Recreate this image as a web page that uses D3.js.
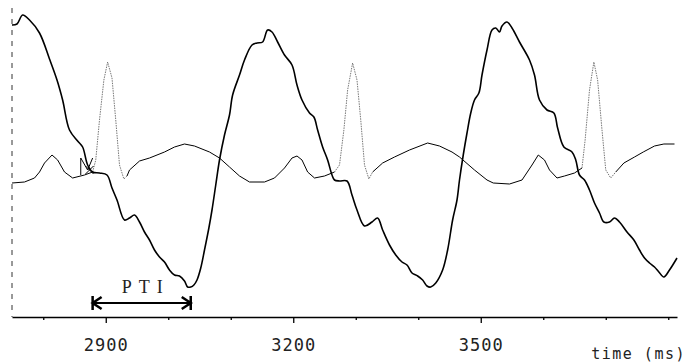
<!DOCTYPE html>
<html>
<head>
    <meta charset="utf-8" />
    <title>PTI trace</title>
    <style>
        body { margin: 0; background: #fff; }
        .thick { fill: none; stroke: #000; stroke-width: 1.6px; stroke-linejoin: round; }
        .thin { fill: none; stroke: #000; stroke-width: 1px; }
        .spike { fill: none; stroke: #777; stroke-width: 1px; stroke-dasharray: 1.5,1; }
        .axis path, .axis line { stroke: #000; stroke-width: 1.3px; }
        .axis text { font-family: 'DejaVu Sans Mono', monospace; font-size: 17px; letter-spacing: 1px; fill: #222; }
    </style>
    <script src="https://cdn.jsdelivr.net/npm/d3@7"></script>
</head>
<body>
<script>
    // time (ms) and amplitude (arbitrary units)
    var pressureT = [2750, 2758, 2767, 2778, 2794, 2810, 2822, 2831, 2842, 2855, 2863, 2871, 2879, 2890, 2902,
        2910, 2918, 2930, 2938, 2946, 2954, 2962, 2970, 2978, 2986, 2994, 3002, 3010, 3018, 3026, 3031, 3036,
        3041, 3046, 3052, 3058, 3065, 3070, 3076, 3082, 3090, 3098, 3103, 3114, 3122, 3134, 3142, 3151, 3159,
        3166, 3175, 3186, 3198, 3206, 3214, 3226, 3233, 3239, 3247, 3255, 3262, 3266, 3274, 3286, 3294, 3302,
        3314, 3326, 3335, 3343, 3354, 3364, 3374, 3382, 3390, 3399, 3407, 3414, 3420, 3428, 3439, 3447, 3455,
        3462, 3466, 3472, 3478, 3484, 3490, 3497, 3502, 3510, 3518, 3524, 3530, 3534, 3542, 3550, 3562, 3578,
        3586, 3594, 3606, 3617, 3623, 3633, 3646, 3652, 3658, 3666, 3674, 3682, 3690, 3697, 3706, 3714, 3722,
        3734, 3745, 3754, 3762, 3770, 3778, 3785, 3793, 3802, 3814];
    var pressureV = [292, 293, 302, 297, 284, 258, 237, 217, 187, 176, 170, 152, 145, 144, 142,
        129, 117, 97, 99, 102, 95, 85, 77, 67, 60, 55, 47, 42, 41, 36, 30, 30,
        32, 37, 49, 67, 89, 107, 132, 157, 182, 202, 222, 242, 257, 272, 274, 275, 287,
        285, 275, 262, 252, 232, 217, 204, 200, 187, 170, 157, 142, 137, 136, 136, 122, 107,
        91, 95, 99, 87, 72, 62, 55, 52, 44, 41, 37, 31, 30, 34, 47, 67, 97,
        117, 137, 162, 184, 204, 217, 224, 242, 267, 287, 289, 285, 291, 295, 289, 275, 257,
        242, 217, 207, 204, 189, 170, 165, 157, 142, 137, 127, 114, 104, 95, 95, 99, 95,
        85, 77, 67, 59, 54, 50, 45, 40, 47, 59];

    var ecgT = [2750, 2770, 2786, 2794, 2802, 2814, 2823, 2834, 2847, 2866, 2879,
        2884, 2890, 2897, 2903, 2910, 2916, 2922, 2929, 2934,
        2938, 2954, 2970, 2994, 3010, 3026, 3042, 3066, 3082, 3098, 3114, 3130, 3154, 3170,
        3186, 3198, 3206, 3214, 3223, 3234, 3250, 3266,
        3274, 3281, 3287, 3295, 3302, 3308, 3314, 3321, 3327,
        3343, 3362, 3386, 3415, 3434, 3454, 3466, 3490, 3510, 3520, 3546, 3566, 3582, 3592,
        3602, 3610, 3622, 3634, 3650, 3662,
        3667, 3674, 3681, 3687, 3694, 3700, 3708, 3716,
        3729, 3746, 3760, 3778, 3793, 3810];
    var ecgV = [134, 135, 139, 145, 154, 162, 157, 145, 139, 142, 145,
        157, 197, 237, 255, 239, 197, 152, 138, 141,
        147, 156, 159, 165, 170, 173, 171, 165, 159, 150, 141, 135, 135, 139,
        149, 159, 161, 157, 145, 139, 141, 145,
        152, 187, 227, 254, 237, 197, 152, 138, 145,
        154, 160, 167, 174, 171, 165, 160, 147, 137, 134, 133, 137, 152, 162,
        157, 147, 139, 141, 144, 149,
        177, 227, 255, 237, 187, 147, 139, 145,
        154, 160, 165, 171, 173, 173];

    // QRS spikes are drawn faint and dotted
    var qrsWindows = [[2879, 2934], [3266, 3327], [3662, 3716]];

    var majorTicks = [2900, 3200, 3500];
    var minorTicks = [2800, 3000, 3100, 3300, 3400, 3600, 3700, 3800];

    // PTI interval and onset marker (ms)
    var ptiStart = 2879, ptiEnd = 3036;
    var markerT = [2860, 2860, 2871, 2879];
    var markerV = [142, 159, 147, 159];

    var width = 687, height = 363;

    var x = d3.scaleLinear().domain([2750, 3814]).range([12, 677]);
    var y = d3.scaleLinear().domain([0, 317]).range([317, 0]);

    var pressure = pressureT.map(function(t, i) { return { t: t, v: pressureV[i] }; });
    var ecg = ecgT.map(function(t, i) { return { t: t, v: ecgV[i] }; });

    function inQrs(t, strict) {
        return qrsWindows.some(function(w) {
            return strict ? (t > w[0] && t < w[1]) : (t >= w[0] && t <= w[1]);
        });
    }

    var svg = d3.select('body').append('svg')
        .attr('width', width)
        .attr('height', height);

    // dashed left border
    svg.append('line')
        .attr('x1', x(2750)).attr('x2', x(2750))
        .attr('y1', y(309)).attr('y2', y(0))
        .attr('stroke', '#333')
        .attr('stroke-width', 1)
        .attr('stroke-dasharray', '5,6');

    var line = d3.line()
        .x(function(d) { return x(d.t); })
        .y(function(d) { return y(d.v); });

    // ecg, solid parts
    svg.append('path')
        .datum(ecg)
        .attr('class', 'thin')
        .attr('d', line.defined(function(d) { return !inQrs(d.t, true); }));

    // ecg, spikes
    svg.append('path')
        .datum(ecg)
        .attr('class', 'spike')
        .attr('d', line.defined(function(d) { return inQrs(d.t, false); }));

    line.defined(function() { return true; });
    line.curve(d3.curveCatmullRom.alpha(0.5));

    svg.append('path')
        .datum(pressure)
        .attr('class', 'thick')
        .attr('d', line);

    // onset marker
    var marker = markerT.map(function(t, i) { return { t: t, v: markerV[i] }; });
    svg.append('path')
        .datum(marker)
        .attr('class', 'thin')
        .attr('stroke-width', 1.3)
        .attr('d', d3.line().x(function(d) { return x(d.t); }).y(function(d) { return y(d.v); }));
    svg.append('path')
        .attr('class', 'thin')
        .attr('stroke-width', 1.5)
        .attr('d', 'M' + (x(2874) - 4) + ',' + (y(147) - 4) + 'l8,8M' + (x(2874) + 4) + ',' + (y(147) - 4) + 'l-8,8');

    // PTI arrow
    var ay = y(14), x0 = x(ptiStart), x1 = x(ptiEnd);
    var arrow = svg.append('g').attr('fill', 'none').attr('stroke', '#000').attr('stroke-width', 2);
    arrow.append('line').attr('x1', x0).attr('x2', x1).attr('y1', ay).attr('y2', ay);
    arrow.append('path').attr('stroke-width', 2.5).attr('d', 'M' + x0 + ',' + (ay - 7) + 'v14M' + (x0 + 9) + ',' + (ay - 6) + 'L' + x0 + ',' + ay + 'L' + (x0 + 9) + ',' + (ay + 6));
    arrow.append('path').attr('stroke-width', 2.5).attr('d', 'M' + x1 + ',' + (ay - 7) + 'v14M' + (x1 - 9) + ',' + (ay - 6) + 'L' + x1 + ',' + ay + 'L' + (x1 - 9) + ',' + (ay + 6));

    svg.append('text')
        .attr('x', (x0 + x1) / 2 + 4)
        .attr('y', ay - 10)
        .attr('text-anchor', 'middle')
        .style('font-family', 'Liberation Serif, serif')
        .style('font-size', '18px')
        .style('letter-spacing', '7px')
        .style('fill', '#222')
        .text('PTI');

    // x axis: minor then major ticks
    svg.append('g')
        .attr('class', 'axis')
        .attr('transform', 'translate(0,' + y(0) + ')')
        .call(d3.axisBottom(x).tickValues(minorTicks).tickSize(3).tickSizeOuter(0).tickFormat(''));

    svg.append('g')
        .attr('class', 'axis')
        .attr('transform', 'translate(0,' + y(0) + ')')
        .call(d3.axisBottom(x).tickValues(majorTicks).tickSize(6).tickSizeOuter(0).tickPadding(16).tickFormat(d3.format('d')))
        .call(function(g) { g.select('.domain').remove(); });

    svg.append('text')
        .attr('x', 686)
        .attr('y', 359)
        .attr('text-anchor', 'end')
        .style('font-family', 'DejaVu Sans Mono, monospace')
        .style('font-size', '15px')
        .style('letter-spacing', '1.5px')
        .style('fill', '#222')
        .text('time (ms)');
</script>
</body>
</html>
